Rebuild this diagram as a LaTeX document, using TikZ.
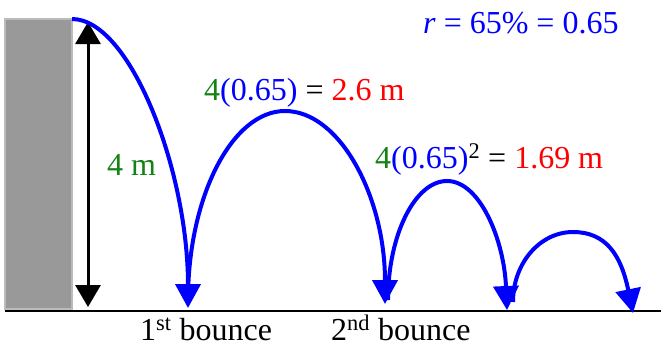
\documentclass[tikz,border=0pt]{standalone}
\usepackage{fontspec}
\setmainfont{Liberation Serif}
\usetikzlibrary{arrows.meta}
\definecolor{wallfill}{HTML}{999999}
\definecolor{wallborder}{HTML}{BBBBBB}
\definecolor{lblgreen}{RGB}{20,130,20}
\definecolor{lblblue}{RGB}{0,0,255}
\definecolor{lblred}{RGB}{255,0,0}
\tikzset{
  ballpath/.style={draw=lblblue, line width=4pt, -{Triangle[width=25pt,length=24pt]}},
  measure/.style={draw=black, line width=3pt, {Triangle[width=25pt,length=22pt]}-{Triangle[width=25pt,length=22pt]}},
  lbl/.style={inner sep=0pt, anchor=base west, font=\fontsize{32}{38}\selectfont}
}
\begin{document}
\begin{tikzpicture}[x=1pt,y=-1pt]
\useasboundingbox (0,0) rectangle (661,346);
% wall
\draw[fill=wallfill, draw=wallborder, line width=2pt] (5,19) rectangle (72,309);
% ground
\coordinate (g0) at (5,311);
\coordinate (g1) at (661,311);
\draw[line width=1.2pt] (g0) -- (g1);
% height arrow
\coordinate (htop) at (88,22);
\coordinate (hbot) at (88,307);
\draw[measure] (htop) -- (hbot);
% points
\coordinate (p0) at (72,19);
\coordinate (b1) at (188,308);
\coordinate (s2) at (188,300);
\coordinate (t2) at (285,111);
\coordinate (b2) at (385,304);
\coordinate (s3) at (388,300);
\coordinate (t3) at (447,181);
\coordinate (b3) at (507,310);
\coordinate (s4) at (513,302);
\coordinate (t4) at (573,232);
\coordinate (b4) at (633,313);
% trajectory
\draw[ballpath] (p0) .. controls (130,19) and (188,170) .. (b1);
\draw[ballpath] (s2) .. controls (188,197) and (232,111) .. (t2)
                     .. controls (340,111) and (385,197) .. (b2);
\draw[ballpath] (s3) .. controls (388,235) and (415,181) .. (t3)
                     .. controls (480,181) and (504,240) .. (b3);
\draw[ballpath] (s4) .. controls (513,263) and (540,232) .. (t4)
                     .. controls (606,232) and (621,255) .. (b4);
% labels
\node[lbl, text=lblblue] (rlbl) at (423,33) {\textit{r} = 65\% = 0.65};
\node[lbl] (h1lbl) at (204,100) {\textcolor{lblgreen}{4}\textcolor{lblblue}{(0.65)} = \textcolor{lblred}{2.6 m}};
\node[lbl] (h2lbl) at (375,168) {\textcolor{lblgreen}{4}\textcolor{lblblue}{(0.65)}\textsuperscript{2} = \textcolor{lblred}{1.69 m}};
\node[lbl, text=lblgreen] (hlbl) at (107,175) {4 m};
\node[lbl] (bnc1) at (140,340) {1\textsuperscript{st} bounce};
\node[lbl] (bnc2) at (331,340) {2\textsuperscript{nd} bounce};
\end{tikzpicture}
\end{document}
